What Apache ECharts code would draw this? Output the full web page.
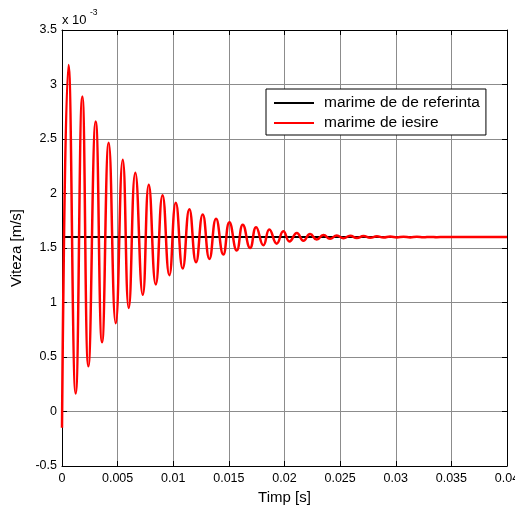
<!DOCTYPE html>
<html>
<head>
<meta charset="utf-8">
<script src="https://cdn.jsdelivr.net/npm/echarts@6/dist/echarts.min.js"></script>
<style>
html,body{margin:0;padding:0;background:#fff;}
#c{width:515px;height:507px;}
</style>
</head>
<body>
<div id="c"></div>
<script>
// Time [s]
var timeS = [0, 0.000585, 0.00123, 0.001826, 0.00237, 0.00303, 0.0036, 0.0042, 0.00483, 0.00546,
  0.0060, 0.00659, 0.00726, 0.00780, 0.00843, 0.00904, 0.00965, 0.01023, 0.01085, 0.01145,
  0.01205, 0.01265, 0.01325, 0.01385, 0.0145, 0.01505, 0.01571, 0.01625, 0.01691, 0.01745,
  0.0181, 0.01864, 0.0193, 0.0199, 0.02045, 0.02111, 0.0217, 0.0223, 0.0229, 0.0235,
  0.0241, 0.0247, 0.0253, 0.0259, 0.0265, 0.0271, 0.0277, 0.0283, 0.0289, 0.0295,
  0.0301, 0.0307, 0.0313, 0.0319, 0.0325, 0.0331, 0.0337, 0.0343, 0.04];
// Output speed (x 10^-3 m/s)
var outputSpeed = [-0.15, 3.18, 0.165, 2.89, 0.415, 2.66, 0.635, 2.465, 0.81, 2.31,
  0.95, 2.19, 1.07, 2.08, 1.165, 1.985, 1.25, 1.915, 1.312, 1.855,
  1.37, 1.807, 1.40, 1.768, 1.44, 1.737, 1.477, 1.714, 1.50, 1.691,
  1.525, 1.67, 1.54, 1.654, 1.56, 1.638, 1.567, 1.628, 1.577, 1.62,
  1.584, 1.615, 1.589, 1.612, 1.592, 1.609, 1.594, 1.607, 1.596, 1.605,
  1.597, 1.604, 1.597, 1.603, 1.598, 1.602, 1.599, 1.601, 1.6];
// Reference speed
var refTime = [0, 0.04];
var refSpeed = [1.6, 1.6];
var seriesNames = ['marime de de referinta', 'marime de iesire'];
var xLabel = 'Timp [s]';
var yLabel = 'Viteza [m/s]';

function pairs(a, b) { return a.map(function (v, i) { return [v, b[i]]; }); }

var font = 'Liberation Sans, Arial, sans-serif';
var chart = echarts.init(document.getElementById('c'));
var gridColor = '#8c8c8c';
chart.setOption({
  backgroundColor: '#ffffff',
  animation: false,
  grid: { left: 62, right: 8, top: 30, bottom: 41, outerBoundsMode: 'none', containLabel: false },
  xAxis: [{
    type: 'value', min: 0, max: 0.04, interval: 0.005, position: 'bottom',
    name: xLabel, nameLocation: 'middle', nameGap: 23,
    nameTextStyle: { fontSize: 15, color: '#000', fontFamily: font },
    axisLine: { show: true, onZero: false, lineStyle: { color: '#000', width: 1 } },
    axisTick: { show: true, inside: true, length: 5, lineStyle: { color: '#000' } },
    axisLabel: { fontSize: 12.5, color: '#000', fontFamily: font, margin: 6 },
    splitLine: { show: true, lineStyle: { color: gridColor, width: 1 } }
  }, {
    type: 'value', min: 0, max: 0.04, interval: 0.005, position: 'top',
    axisLine: { show: true, onZero: false, lineStyle: { color: '#000', width: 1 } },
    axisTick: { show: true, inside: true, length: 5, lineStyle: { color: '#000' } },
    axisLabel: { show: false }, splitLine: { show: false }
  }],
  yAxis: [{
    type: 'value', min: -0.5, max: 3.5, interval: 0.5, position: 'left',
    name: yLabel, nameLocation: 'middle', nameGap: 37, nameRotate: 90,
    nameTextStyle: { fontSize: 15, color: '#000', fontFamily: font },
    axisLine: { show: true, onZero: false, lineStyle: { color: '#000', width: 1 } },
    axisTick: { show: true, inside: true, length: 5, lineStyle: { color: '#000' } },
    axisLabel: { fontSize: 12.5, color: '#000', fontFamily: font, margin: 5 },
    splitLine: { show: true, lineStyle: { color: gridColor, width: 1 } }
  }, {
    type: 'value', min: -0.5, max: 3.5, interval: 0.5, position: 'right',
    axisLine: { show: true, onZero: false, lineStyle: { color: '#000', width: 1 } },
    axisTick: { show: true, inside: true, length: 5, lineStyle: { color: '#000' } },
    axisLabel: { show: false }, splitLine: { show: false }
  }],
  legend: {
    orient: 'vertical', left: 266, top: 89,
    padding: [5, 6, 3, 8], itemGap: 2,
    itemWidth: 40, itemHeight: 2, icon: 'rect',
    borderColor: '#000', borderWidth: 1, backgroundColor: '#fff',
    textStyle: { fontSize: 15.5, color: '#000', fontFamily: font, lineHeight: 18, padding: [0, 0, 0, 5] },
    data: seriesNames
  },
  graphic: [
    { type: 'text', left: 62, top: 14, style: { text: 'x 10', fontSize: 13, fill: '#000', fontFamily: font } },
    { type: 'text', left: 90, top: 8, style: { text: '-3', fontSize: 8.5, fill: '#000', fontFamily: font } }
  ],
  series: [{
    name: seriesNames[0], type: 'line', showSymbol: false, symbol: 'none',
    color: '#000000', lineStyle: { color: '#000000', width: 2 },
    data: pairs(refTime, refSpeed)
  }, {
    name: seriesNames[1], type: 'line', showSymbol: false, symbol: 'none',
    smooth: 0.5, color: '#ff0000', lineStyle: { color: '#ff0000', width: 2.5 },
    data: pairs(timeS, outputSpeed)
  }]
});
</script>
</body>
</html>
